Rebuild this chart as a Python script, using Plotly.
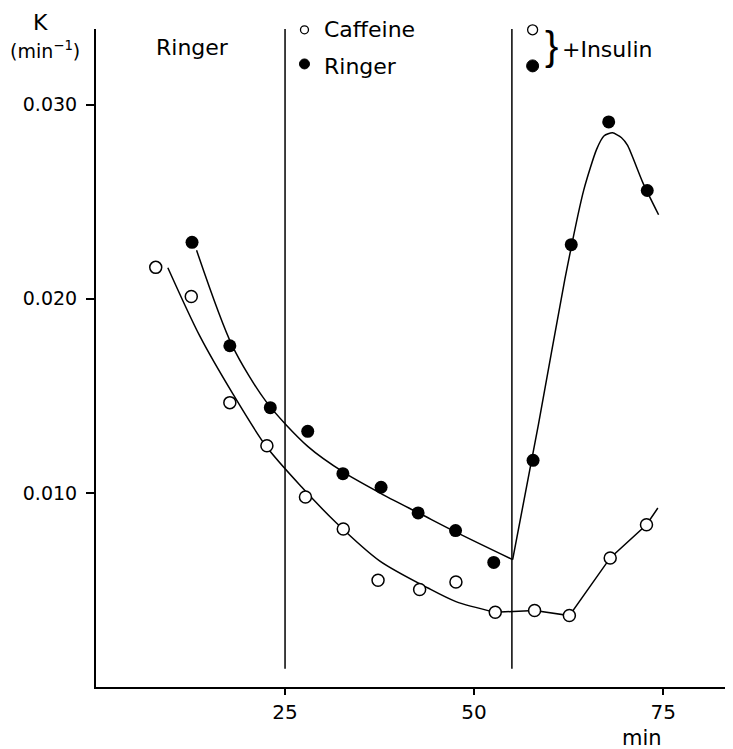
import plotly.graph_objects as go

# ---- data ----
caffeine_t = [7.9, 12.6, 17.7, 22.6, 27.7, 32.7, 37.3, 42.8, 47.6, 52.8, 58.0, 62.6, 68.0, 72.8]
caffeine_k = [0.02162, 0.02012, 0.01465, 0.01243, 0.00979, 0.00814, 0.00550, 0.00502,
              0.00541, 0.00385, 0.00394, 0.00368, 0.00665, 0.00836]

ringer_t = [12.7, 17.7, 23.05, 28.0, 32.65, 37.7, 42.6, 47.55, 52.6, 57.8, 62.85, 67.8, 72.9]
ringer_k = [0.02291, 0.01758, 0.01439, 0.01317, 0.01099, 0.01029, 0.00897, 0.00806,
            0.00642, 0.01168, 0.02279, 0.02911, 0.02558]

# hand-drawn fit curves (control points)
caf_fit1_t = [9.5, 13.7, 18.1, 22.5, 27.2, 31.8, 37.5, 43.9, 47.6, 52.8]
caf_fit1_k = [0.0216, 0.0181, 0.0151, 0.0124, 0.0103, 0.00845, 0.0065, 0.0051, 0.0044, 0.00385]
caf_fit2_t = [52.8, 58.0, 62.6, 68.0, 72.8, 74.3]
caf_fit2_k = [0.00385, 0.00394, 0.00368, 0.00665, 0.00836, 0.00922]

rin_fit1_t = [13.3, 18.0, 22.5, 28.0, 33.0, 38.0, 43.0, 48.0, 55.1]
rin_fit1_k = [0.0225, 0.0176, 0.0147, 0.0124, 0.0110, 0.0099, 0.0089, 0.0079, 0.00656]
rin_fit2_t = [55.1, 58.5, 62.0, 64.5, 66.2, 67.2, 68.3, 69.5, 70.3, 72.3, 74.4]
rin_fit2_k = [0.00656, 0.0135, 0.0210, 0.0256, 0.0277, 0.0284, 0.02855, 0.0283, 0.0279,
              0.0260, 0.02433]

divider_t = [25, 55]
x_ticks = [25, 50, 75]
x_ticklabels = ["25", "50", "75"]
y_ticks = [0.010, 0.020, 0.030]
y_ticklabels = ["0.010", "0.020", "0.030"]

FONT = "DejaVu Sans"
XMAX = 84.24
YMAX = 0.0339

fig = go.Figure()

line_style = dict(color="black", width=1.5)
fig.add_trace(go.Scatter(x=caf_fit1_t, y=caf_fit1_k, mode="lines",
                         line=dict(shape="spline", smoothing=0.8, **line_style)))
fig.add_trace(go.Scatter(x=caf_fit2_t, y=caf_fit2_k, mode="lines", line=line_style))
fig.add_trace(go.Scatter(x=rin_fit1_t, y=rin_fit1_k, mode="lines",
                         line=dict(shape="spline", smoothing=0.8, **line_style)))
fig.add_trace(go.Scatter(x=rin_fit2_t, y=rin_fit2_k, mode="lines",
                         line=dict(shape="spline", smoothing=0.6, **line_style)))

fig.add_trace(go.Scatter(x=caffeine_t, y=caffeine_k, mode="markers",
                         marker=dict(symbol="circle", size=12, color="white", opacity=1,
                                     line=dict(color="black", width=1.5))))
fig.add_trace(go.Scatter(x=ringer_t, y=ringer_k, mode="markers",
                         marker=dict(symbol="circle", size=13, color="black", opacity=1)))

# key symbols
fig.add_trace(go.Scatter(x=[27.57, 57.74], y=[0.03386, 0.03386], mode="markers", cliponaxis=False,
                         marker=dict(symbol="circle", size=[8, 10], color="white", opacity=1,
                                     line=dict(color="black", width=1.3))))
fig.add_trace(go.Scatter(x=[27.57, 57.74], y=[0.0321, 0.0320], mode="markers", cliponaxis=False,
                         marker=dict(symbol="circle", size=[10, 12], color="#000000", opacity=1,
                                     line=dict(color="#000000", width=1))))

for t in divider_t:
    fig.add_shape(type="line", xref="x", yref="y", x0=t, x1=t, y0=0.00094, y1=YMAX,
                  line=dict(color="black", width=1.5))

def ann(text, x, y, xanchor="center", yanchor="middle", size=22, ref="data", family=FONT):
    fig.add_annotation(text=text, x=x, y=y,
                       xref="x" if ref == "data" else "paper",
                       yref="y" if ref == "data" else "paper",
                       showarrow=False, xanchor=xanchor, yanchor=yanchor,
                       font=dict(family=family, size=size, color="black"))

ann("K", -0.0879, 1.0092, ref="paper")
ann("(min<sup>−1</sup>)", -0.0800, 0.9681, size=19, ref="paper")
ann("min", 0.8571, -0.0776, size=21, ref="paper")
ann("Ringer", 12.8, 0.03293)
ann("Caffeine", 29.9, 0.03386, xanchor="left")
ann("Ringer", 29.9, 0.03195, xanchor="left")
ann("}", 60.3, 0.0330, size=40, family="Liberation Sans")
ann("+Insulin", 61.4, 0.03283, xanchor="left")

# page has an 8px body margin: the figure is sized so the plot lands on the reference pixels
fig.update_layout(
    width=725, height=741, autosize=False,
    margin=dict(l=88, r=0, t=21, b=62),
    plot_bgcolor="white", paper_bgcolor="white",
    showlegend=False,
    font=dict(family=FONT, size=20, color="black"),
    xaxis=dict(range=[0, XMAX], showgrid=False, zeroline=False, showline=True,
               linecolor="black", linewidth=2, ticks="outside", ticklen=6, tickwidth=2,
               tickcolor="black", tickvals=x_ticks, ticktext=x_ticklabels,
               tickfont=dict(family=FONT, size=20)),
    yaxis=dict(range=[0, YMAX], showgrid=False, zeroline=False, showline=True,
               linecolor="black", linewidth=2, ticks="outside", ticklen=8, tickwidth=2,
               tickcolor="black", tickvals=y_ticks, ticktext=y_ticklabels,
               ticklabelstandoff=5, tickfont=dict(family=FONT, size=19)),
)

fig.write_html("out.html")
